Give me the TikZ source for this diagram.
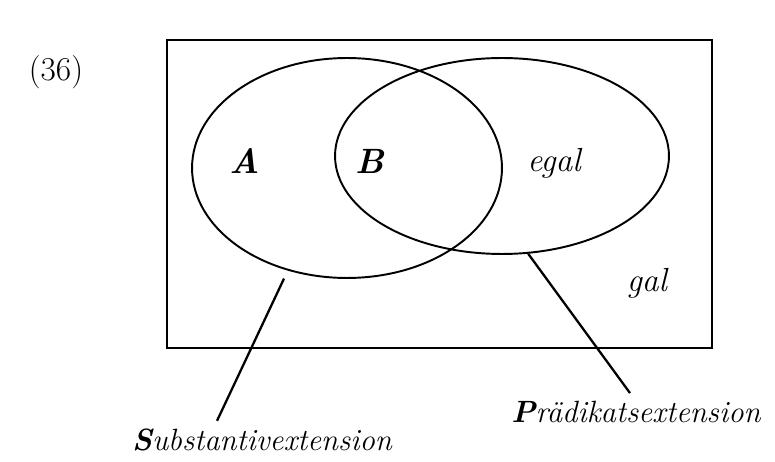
\documentclass[tikz,border=0pt]{standalone}
\usepackage{tikz}
\usetikzlibrary{shapes.geometric}
\tikzset{
vnframe/.style={draw,line width=1.3pt},
vnset/.style={ellipse,draw,line width=1.1pt,inner sep=0pt},
vnletter/.style={font=\fontsize{20}{24}\selectfont\bfseries\itshape,inner sep=1pt},
vnword/.style={font=\fontsize{19}{23}\selectfont\itshape,inner sep=1pt},
vnlabel/.style={font=\fontsize{17.5}{21}\selectfont\itshape,inner sep=1pt},
vnnum/.style={font=\fontsize{19}{23}\selectfont,inner sep=1pt},
vnline/.style={line width=1.3pt}
}
\begin{document}
\begin{tikzpicture}[x=0.02cm,y=-0.02cm]
\useasboundingbox (0,0) rectangle (775,462);
\node[vnnum] (num) at (56,72) {(36)};
\node[vnframe,minimum width=10.9cm,minimum height=6.16cm] (frame) at (439.5,194) {};
\node[vnset,minimum width=6.2cm,minimum height=4.4cm] (subst) at (347,168) {};
\node[vnset,minimum width=6.68cm,minimum height=3.92cm] (praed) at (502,156) {};
\node[vnletter] (seta) at (245,161) {A};
\node[vnletter] (setb) at (370,161) {B};
\node[vnword] (egal) at (554,163) {egal};
\node[vnword] (gal) at (647,283) {gal};
\node[vnlabel] (substlabel) at (262,440) {\textbf{S}ubstantivextension};
\node[vnlabel] (praedlabel) at (636,412) {\textbf{P}rädikatsextension};
\draw[vnline,shorten <=5pt] (subst.240) -- ([xshift=-0.9cm,yshift=0.12cm]substlabel.north);
\draw[vnline] (praed.285) -- ([xshift=-0.12cm,yshift=0.12cm]praedlabel.north);
\end{tikzpicture}
\end{document}
